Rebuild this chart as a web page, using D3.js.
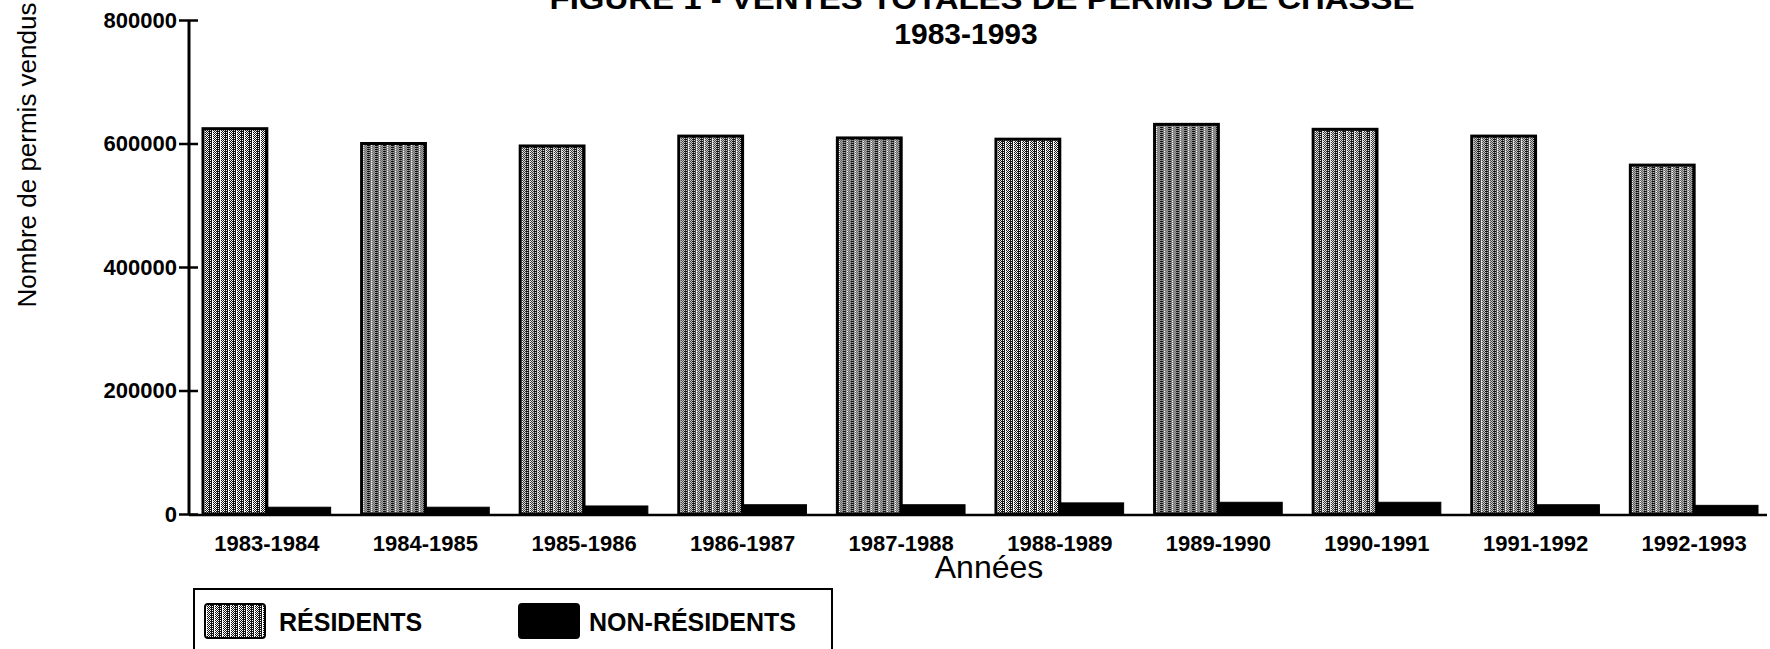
<!DOCTYPE html>
<html>
<head>
<meta charset="utf-8">
<script src="https://cdn.jsdelivr.net/npm/d3@7"></script>
<style>
  body { margin: 0; background: #fff; }
  svg { display: block; font-family: "Liberation Sans", Arial, sans-serif; }
</style>
</head>
<body>
<div id="chart"></div>
<script>
const svgWidth = 1770;
const svgHeight = 649;

// data
const years = ["1983-1984", "1984-1985", "1985-1986", "1986-1987", "1987-1988",
  "1988-1989", "1989-1990", "1990-1991", "1991-1992", "1992-1993"];
const residents = [624000, 600000, 596000, 612000, 609000, 607000, 631000, 623000, 612000, 565000];
const nonResidents = [11000, 11000, 13000, 15000, 15000, 18000, 19000, 19000, 15000, 14000];
const seriesNames = ["RÉSIDENTS", "NON-RÉSIDENTS"];
const yTicks = [0, 200000, 400000, 600000, 800000];

const rows = years.map((y, i) => ({ year: y, values: [residents[i], nonResidents[i]] }));

const svg = d3.select("#chart")
  .append("svg")
  .attr("width", svgWidth)
  .attr("height", svgHeight);

// dithered fill like the scanned original
const defs = svg.append("defs");
const pat = defs.append("pattern")
  .attr("id", "resFill")
  .attr("patternUnits", "userSpaceOnUse")
  .attr("width", 8)
  .attr("height", 2);
pat.append("rect").attr("width", 8).attr("height", 2).attr("fill", "#fff");
[[0, 0, 1, 2], [2, 0, 1, 1], [3, 1, 1, 1], [4, 0, 1, 1], [5, 1, 1, 1], [6, 0, 1, 2], [7, 1, 1, 1]]
  .forEach(p => pat.append("rect")
    .attr("x", p[0]).attr("y", p[1]).attr("width", p[2]).attr("height", p[3])
    .attr("fill", "#111"));

const x0 = d3.scaleBand()
  .domain(years)
  .range([203, 1758])
  .paddingInner(0.195)
  .paddingOuter(0);

const x1 = d3.scaleBand()
  .domain([0, 1])
  .range([0, x0.bandwidth()]);

const y = d3.scaleLinear()
  .domain([0, 800000])
  .range([514, 20]);

// bars
const groups = svg.selectAll(".grp")
  .data(rows)
  .enter()
  .append("g")
  .attr("class", "grp")
  .attr("transform", d => `translate(${x0(d.year)},0)`);

groups.selectAll("rect")
  .data(d => d.values)
  .enter()
  .append("rect")
  .attr("x", (d, i) => x1(i))
  .attr("y", d => y(d))
  .attr("width", x1.bandwidth())
  .attr("height", d => y(0) - y(d))
  .attr("fill", (d, i) => i === 0 ? "url(#resFill)" : "#000")
  .attr("stroke", "#000")
  .attr("stroke-width", (d, i) => i === 0 ? 3 : 1);

// y axis
const yAxis = svg.append("g")
  .attr("transform", "translate(189,0)")
  .call(d3.axisLeft(y).tickValues(yTicks).tickSize(10).tickPadding(4).tickFormat(d3.format("d")));
yAxis.select(".domain").remove();
yAxis.selectAll(".tick line")
  .attr("x1", -10).attr("x2", 9)
  .attr("stroke", "#000").attr("stroke-width", 2.5);
yAxis.selectAll(".tick text")
  .attr("x", -12)
  .attr("font-size", 22)
  .attr("font-weight", "bold")
  .attr("font-family", "'Liberation Sans', Arial, sans-serif")
  .attr("fill", "#000");
svg.append("line")
  .attr("x1", 189).attr("x2", 189)
  .attr("y1", y(800000)).attr("y2", y(0))
  .attr("stroke", "#000").attr("stroke-width", 3);

// x axis
svg.append("line")
  .attr("x1", 189).attr("x2", 1767)
  .attr("y1", y(0) + 1).attr("y2", y(0) + 1)
  .attr("stroke", "#000").attr("stroke-width", 2.5);

const xAxis = svg.append("g")
  .attr("transform", `translate(0,${y(0)})`)
  .call(d3.axisBottom(x0).tickSize(0).tickPadding(21));
xAxis.select(".domain").remove();
xAxis.selectAll("text")
  .attr("font-size", 22)
  .attr("font-weight", "bold")
  .attr("font-family", "'Liberation Sans', Arial, sans-serif")
  .attr("fill", "#000");

// titles
svg.append("text")
  .attr("x", 982).attr("y", 9)
  .attr("text-anchor", "middle")
  .attr("font-size", 30).attr("font-weight", "bold")
  .attr("textLength", 865).attr("lengthAdjust", "spacingAndGlyphs")
  .text("FIGURE 1 - VENTES TOTALES DE PERMIS DE CHASSE");
svg.append("text")
  .attr("x", 966).attr("y", 44)
  .attr("text-anchor", "middle")
  .attr("font-size", 30).attr("font-weight", "bold")
  .text("1983-1993");

svg.append("text")
  .attr("x", 989).attr("y", 578)
  .attr("text-anchor", "middle")
  .attr("font-size", 32)
  .text("Années");

svg.append("text")
  .attr("transform", "translate(36,155) rotate(-90)")
  .attr("text-anchor", "middle")
  .attr("font-size", 26)
  .text("Nombre de permis vendus");

// legend
const legend = svg.append("g");
legend.append("rect")
  .attr("x", 194).attr("y", 589)
  .attr("width", 638).attr("height", 80)
  .attr("fill", "none").attr("stroke", "#000").attr("stroke-width", 2);

const legendX = [205, 519];
const items = legend.selectAll(".item")
  .data(seriesNames)
  .enter()
  .append("g")
  .attr("class", "item")
  .attr("transform", (d, i) => `translate(${legendX[i]},604)`);
items.append("rect")
  .attr("width", 60).attr("height", 34)
  .attr("rx", 3)
  .attr("fill", (d, i) => i === 0 ? "url(#resFill)" : "#000")
  .attr("stroke", "#000").attr("stroke-width", 2);
items.append("text")
  .attr("x", (d, i) => i === 0 ? 74 : 70).attr("y", 27)
  .attr("font-size", 25).attr("font-weight", "bold")
  .text(d => d);
</script>
</body>
</html>
